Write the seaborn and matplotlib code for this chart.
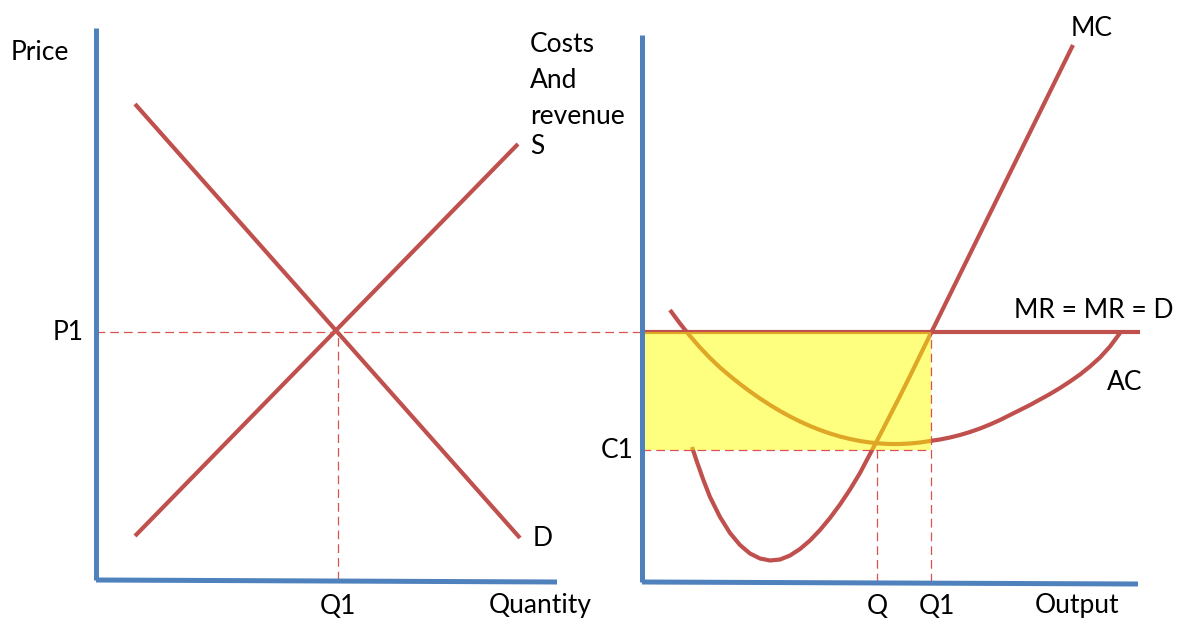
import numpy as np
import pandas as pd
import matplotlib
matplotlib.use("Agg")
import matplotlib.pyplot as plt
import seaborn as sns

sns.set_theme(style="white")
plt.rcParams["font.family"] = ["Lato", "DejaVu Sans"]

# diagram units: x to the right, y upwards (same scale on both)
# left panel: market supply and demand
price_axis_x = [96, 96]
price_axis_y = [41, 593]
qty_axis_x = [96, 557]
qty_axis_y = [41, 39]
demand_x = [135, 520]
demand_y = [517, 83]
supply_x = [135, 518]
supply_y = [85, 477]
P1 = 289
Q1_market = 338

# right panel: the firm
cost_axis_x = [642, 642]
cost_axis_y = [39, 586]
out_axis_x = [642, 1138]
out_axis_y = [39, 37]
mr_x = [642, 1140]
mc_x = [692, 697, 703, 710, 720, 730, 740, 750, 760, 770, 780, 790, 800,
        810, 820, 830, 840, 850, 860, 870, 880, 890, 900, 910, 920, 931, 1073]
mc_y = [174, 159, 142, 124, 104, 88, 76, 67.5, 62.5, 60.5, 61.5, 65.5, 72,
        80.5, 91, 103, 116.5, 131.5, 148, 167, 186, 205.5, 225, 245, 265.5,
        288, 576]
ac_x = [670, 680, 690, 700, 710, 720, 730, 740, 750, 760, 770, 780, 790, 800,
        810, 820, 830, 840, 850, 860, 870, 880, 890, 900, 910, 920, 930, 940,
        950, 960, 970, 980, 990, 1000, 1010, 1020, 1030, 1040, 1050, 1060,
        1070, 1080, 1090, 1100, 1110, 1120]
ac_y = [311, 297.5, 285, 273.5, 263, 253.5, 245, 237, 229.5, 222.5, 216, 210,
        204.5, 199.5, 195, 191, 187.5, 184.5, 182, 180, 178.5, 177.5, 177, 177,
        177.5, 178.5, 180, 181.5, 183.5, 186, 189, 192.5, 196.5, 201, 206, 211,
        216, 221.5, 227, 233, 239.5, 246.5, 254.5, 263.5, 274.5, 288]
C1 = 171
Q_firm = 877
Q1_firm = 931

RED = "#C0504D"
BLUE = "#4F81BD"
DASH = "#D9534F"

fig = plt.figure(figsize=(11.78, 6.21), dpi=100)
ax = fig.add_axes([0, 0, 1, 1])
ax.set_xlim(0, 1178)
ax.set_ylim(0, 621)
ax.axis("off")


def curve(x, y, color=RED, lw=3.0, z=2):
    df = pd.DataFrame({"x": x, "y": y})
    sns.lineplot(data=df, x="x", y="y", sort=False, estimator=None, ax=ax,
                 color=color, lw=lw, zorder=z, solid_capstyle="butt",
                 solid_joinstyle="round")


dash_kw = dict(color=DASH, lw=0.9, dashes=(7, 4), zorder=4)

# axes
for xs, ys in [(price_axis_x, price_axis_y), (qty_axis_x, qty_axis_y),
               (cost_axis_x, cost_axis_y), (out_axis_x, out_axis_y)]:
    curve(xs, ys, color=BLUE, lw=3.6, z=5)

# market
curve(demand_x, demand_y)
curve(supply_x, supply_y)
ax.plot([price_axis_x[0], cost_axis_x[0]], [P1, P1], **dash_kw)
ax.plot([Q1_market, Q1_market], [qty_axis_y[0], P1], **dash_kw)

# firm
curve(mr_x, [P1, P1])
curve(mc_x, mc_y)
curve(ac_x, ac_y)
ax.fill_between([cost_axis_x[0], Q1_firm], C1, P1, color="yellow",
                alpha=0.5, lw=0, zorder=3)
ax.plot([cost_axis_x[0], Q1_firm], [C1, C1], **dash_kw)
ax.plot([Q_firm, Q_firm], [out_axis_y[0], C1], **dash_kw)
ax.plot([Q1_firm, Q1_firm], [out_axis_y[0], P1], **dash_kw)

fs = 19
txt = dict(fontsize=fs, color="black", va="center")
ax.text(40, 568, "Price", ha="center", **txt)
ax.text(84, P1, "P1", ha="right", **txt)
ax.text(Q1_market, 15, "Q1", ha="center", **txt)
ax.text(540, 15, "Quantity", ha="center", **txt)
ax.text(530, 475, "S", ha="left", **txt)
ax.text(533, 83, "D", ha="left", **txt)
ax.text(530, 576, "Costs", ha="left", **txt)
ax.text(530, 540, "And", ha="left", **txt)
ax.text(530, 504, "revenue", ha="left", **txt)

ax.text(634, C1, "C1", ha="right", **txt)
ax.text(Q_firm, 15, "Q", ha="center", **txt)
ax.text(937, 15, "Q1", ha="center", **txt)
ax.text(1077, 15, "Output", ha="center", **txt)
ax.text(1092, 593, "MC", ha="center", **txt)
ax.text(1094, 311, "MR = MR = D", ha="center", **txt)
ax.text(1125, 239, "AC", ha="center", **txt)

fig.savefig("out.png", dpi=100)
